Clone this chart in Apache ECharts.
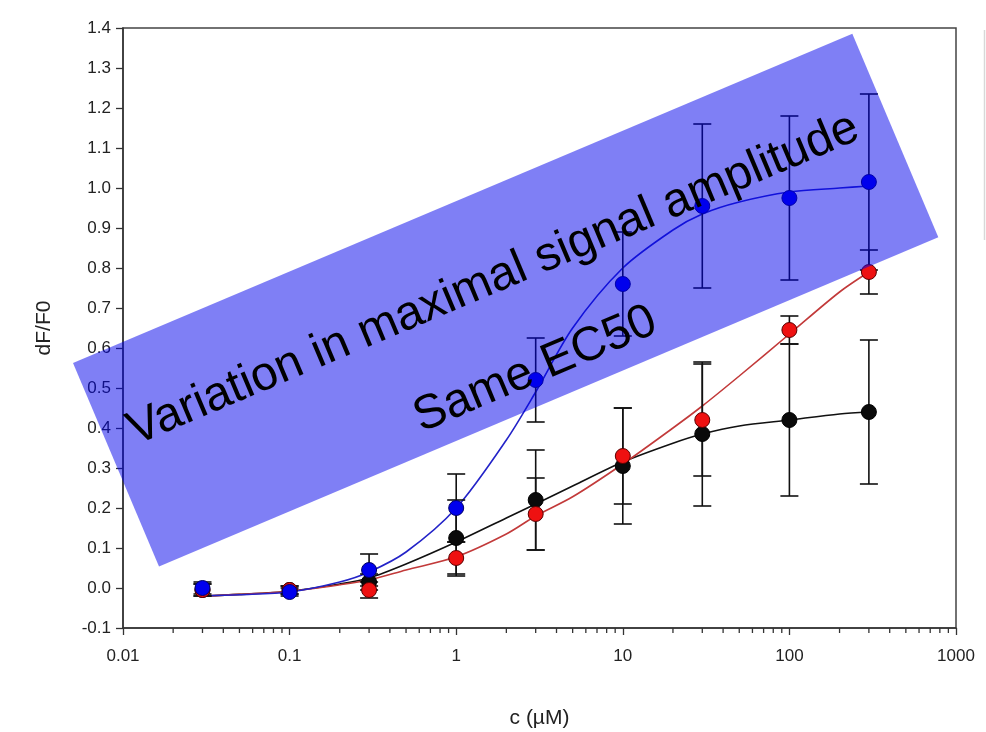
<!DOCTYPE html>
<html>
<head>
<meta charset="utf-8">
<script src="https://cdn.jsdelivr.net/npm/echarts@6/dist/echarts.min.js"></script>
<style>
  html, body { margin: 0; padding: 0; background: #fff; }
  #chart { width: 986px; height: 732px; }
</style>
</head>
<body>
<div id="chart"></div>
<script>
// concentrations (µM) and measured means / errors
var conc = [0.03, 0.1, 0.3, 1, 3, 10, 30, 100, 300];
var blueMean = [0.0, -0.01, 0.045, 0.20, 0.52, 0.76, 0.955, 0.975, 1.015];
var blueErr = [0.015, 0.01, 0.04, 0.085, 0.105, 0.13, 0.205, 0.205, 0.22];
var blackMean = [-0.005, -0.005, 0.015, 0.125, 0.22, 0.305, 0.385, 0.42, 0.44];
var blackErr = [0.015, 0.01, 0.02, 0.095, 0.125, 0.145, 0.18, 0.19, 0.18];
var redMean = [-0.005, -0.005, -0.005, 0.075, 0.185, 0.33, 0.42, 0.645, 0.79];
var redErr = [0.015, 0.01, 0.02, 0.04, 0.09, 0.12, 0.14, 0.035, 0.055];

// fitted curves
var fitX = [0.03, 0.05, 0.1, 0.2, 0.3, 0.5, 1, 2, 3, 5, 10, 20, 30, 50, 100, 200, 300];
var blueFit = [-0.02, -0.017, -0.01, 0.015, 0.04, 0.09, 0.2, 0.37, 0.49, 0.65, 0.8, 0.895, 0.935, 0.965, 0.99, 1.0, 1.005];
var blackFit = [-0.02, -0.016, -0.008, 0.01, 0.025, 0.06, 0.115, 0.175, 0.21, 0.255, 0.315, 0.362, 0.385, 0.405, 0.42, 0.435, 0.44];
var redFit = [-0.02, -0.016, -0.008, 0.008, 0.02, 0.045, 0.078, 0.135, 0.18, 0.228, 0.31, 0.4, 0.455, 0.53, 0.635, 0.74, 0.79];

// log minor ticks on the x axis
var xMinorTicks = [0.02, 0.03, 0.04, 0.05, 0.06, 0.07, 0.08, 0.09,
  0.2, 0.3, 0.4, 0.5, 0.6, 0.7, 0.8, 0.9,
  2, 3, 4, 5, 6, 7, 8, 9,
  20, 30, 40, 50, 60, 70, 80, 90,
  200, 300, 400, 500, 600, 700, 800, 900];

var note1 = 'Variation in maximal signal amplitude';
var note2 = 'Same EC50';

var FONT = 'Liberation Sans, Arial, sans-serif';

function pairs(xs, ys) {
  return xs.map(function (x, i) { return [x, ys[i]]; });
}
function errItems(mean, err) {
  return conc.map(function (x, i) { return [x, mean[i] - err[i], mean[i] + err[i]]; });
}

function renderErr(params, api) {
  var x = api.value(0);
  var top = api.coord([x, api.value(2)]);
  var bot = api.coord([x, api.value(1)]);
  var w = 9;
  var st = { stroke: '#111', lineWidth: 1.6 };
  return {
    type: 'group',
    children: [
      { type: 'line', shape: { x1: top[0], y1: top[1], x2: bot[0], y2: bot[1] }, style: st },
      { type: 'line', shape: { x1: top[0] - w, y1: top[1], x2: top[0] + w, y2: top[1] }, style: st },
      { type: 'line', shape: { x1: bot[0] - w, y1: bot[1], x2: bot[0] + w, y2: bot[1] }, style: st }
    ]
  };
}

function renderMinor(params, api) {
  var p = api.coord([api.value(0), api.value(1)]);
  return {
    type: 'line',
    shape: { x1: p[0], y1: p[1], x2: p[0], y2: p[1] + 5 },
    style: { stroke: '#333', lineWidth: 1.3 }
  };
}

function fitLine(data, color) {
  return {
    type: 'line', data: data, smooth: 0.3, showSymbol: false, silent: true,
    lineStyle: { color: color, width: 1.6 }, z: 2
  };
}
function errSeries(items) {
  return {
    type: 'custom', renderItem: renderErr, data: items, silent: true,
    encode: { x: 0, y: [1, 2] }, z: 3
  };
}
function dots(data, color, border) {
  return {
    type: 'scatter', data: data, symbolSize: 15, silent: true,
    itemStyle: { color: color, borderColor: border, borderWidth: 1, opacity: 1 }, z: 4
  };
}

var ang = 0.3997; // tilt of the annotation box

var chart = echarts.init(document.getElementById('chart'));
chart.setOption({
  backgroundColor: '#fff',
  animation: false,
  grid: {
    left: 123, right: 30, top: 28, bottom: 104,
    outerBoundsMode: 'none', containLabel: false,
    show: true, borderColor: '#444', borderWidth: 1.5, backgroundColor: 'transparent'
  },
  xAxis: {
    type: 'log', logBase: 10, min: 0.01, max: 1000,
    name: 'c (µM)', nameLocation: 'middle', nameGap: 80,
    nameTextStyle: { fontFamily: FONT, fontSize: 21, color: '#222' },
    axisLine: { onZero: false, lineStyle: { color: '#333', width: 1.5 } },
    axisTick: { inside: false, length: 7, lineStyle: { color: '#333', width: 1.3 } },
    axisLabel: {
      fontFamily: FONT, fontSize: 17, color: '#222', margin: 20,
      formatter: function (v) { return String(+v.toPrecision(3)); }
    },
    splitLine: { show: false },
    minorTick: { show: false }
  },
  yAxis: {
    type: 'value', min: -0.1, max: 1.4, interval: 0.1,
    name: 'dF/F0', nameLocation: 'middle', nameGap: 68, nameRotate: 90,
    nameTextStyle: { fontFamily: FONT, fontSize: 21, color: '#222' },
    axisLine: { show: true, onZero: false, lineStyle: { color: '#333', width: 1.5 } },
    axisTick: { show: true, inside: false, length: 7, lineStyle: { color: '#333', width: 1.3 } },
    axisLabel: {
      fontFamily: FONT, fontSize: 17, color: '#222', margin: 12,
      formatter: function (v) { return v.toFixed(1); }
    },
    splitLine: { show: false }
  },
  series: [
    {
      type: 'custom', renderItem: renderMinor, clip: false, silent: true,
      data: xMinorTicks.map(function (v) { return [v, -0.1]; }),
      encode: { x: 0, y: 1 }, z: 1
    },
    fitLine(pairs(fitX, blackFit), '#111'),
    fitLine(pairs(fitX, redFit), '#c23a3a'),
    fitLine(pairs(fitX, blueFit), '#2323c8'),
    errSeries(errItems(blackMean, blackErr)),
    errSeries(errItems(redMean, redErr)),
    errSeries(errItems(blueMean, blueErr)),
    dots(pairs(conc, blackMean), '#0a0a0a', '#000'),
    dots(pairs(conc, redMean), '#ee1111', '#5a0000'),
    dots(pairs(conc, blueMean), '#0000ee', '#000066')
  ],
  graphic: [
    {
      type: 'rect', x: 73, y: 363, rotation: ang, z: 100,
      shape: { x: 0, y: 0, width: 846, height: 221 },
      style: { fill: 'rgba(0,0,235,0.5)' }
    },
    {
      type: 'text', x: 130, y: 433, rotation: ang, z: 101,
      style: { text: note1, font: '48px ' + FONT, fill: '#000', align: 'left', verticalAlign: 'middle' }
    },
    {
      type: 'text', x: 416, y: 420, rotation: ang, z: 101,
      style: { text: note2, font: '48px ' + FONT, fill: '#000', align: 'left', verticalAlign: 'middle' }
    },
    {
      type: 'line', z: 50,
      shape: { x1: 984.5, y1: 30, x2: 984.5, y2: 240 },
      style: { stroke: '#d8d8d8', lineWidth: 1.5 }
    }
  ]
});
</script>
</body>
</html>
